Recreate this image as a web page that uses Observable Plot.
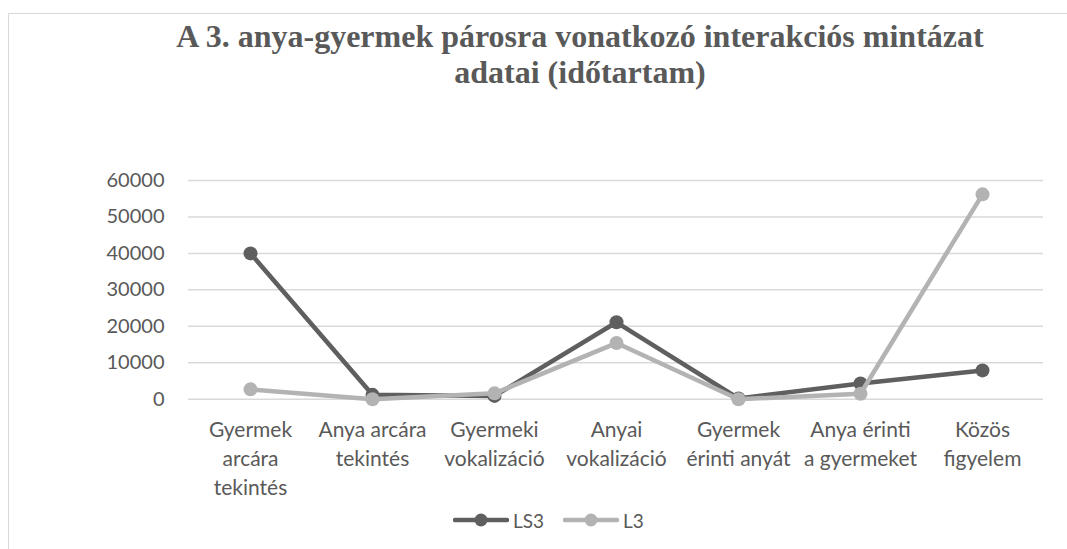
<!DOCTYPE html>
<html>
<head>
<meta charset="utf-8">
<script src="https://cdn.jsdelivr.net/npm/d3@7"></script>
<script src="https://cdn.jsdelivr.net/npm/@observablehq/plot@0.6"></script>
<style>
  html, body { margin: 0; padding: 0; background: #fff; }
  #wrap { position: relative; width: 1067px; height: 549px; overflow: hidden; background: #fff; }
  #frame { position: absolute; left: 8px; top: 13px; width: 1100px; height: 600px;
           border-top: 1.5px solid #d9d9d9; border-left: 1.5px solid #d9d9d9; }
  #title { position: absolute; left: 80px; width: 1000px; top: 18px; text-align: center;
           font-family: "Liberation Serif", "Times New Roman", serif; font-weight: bold;
           font-size: 32px; line-height: 36px; color: #595959; }
  #chart { position: absolute; left: 0; top: 100px; }
  #legend { position: absolute; left: 0; top: 507px; width: 1067px; height: 26px;
            font-family: Lato, sans-serif; font-size: 19px; color: #595959; }
  .item { position: absolute; top: 0; display: flex; align-items: center; height: 26px; }
  .item svg { margin-right: 4px; }
</style>
</head>
<body>
<div id="wrap">
  <div id="frame"></div>
  <div id="title">A 3. anya-gyermek párosra vonatkozó interakciós mintázat<br>adatai (időtartam)</div>
  <div id="chart"></div>
  <div id="legend"></div>
</div>
<script>
const categories = [
  "Gyermek arcára tekintés",
  "Anya arcára tekintés",
  "Gyermeki vokalizáció",
  "Anyai vokalizáció",
  "Gyermek érinti anyát",
  "Anya érinti a gyermeket",
  "Közös figyelem"
];
const categoryLabels = [
  "Gyermek\narcára\ntekintés",
  "Anya arcára\ntekintés",
  "Gyermeki\nvokalizáció",
  "Anyai\nvokalizáció",
  "Gyermek\nérinti anyát",
  "Anya érinti\na gyermeket",
  "Közös\nfigyelem"
];
const seriesNames = ["LS3", "L3"];
const valuesLS3 = [40000, 1200, 900, 21100, 200, 4300, 7900];
const valuesL3 = [2700, 0, 1600, 15400, 0, 1500, 56200];
const yTicks = [0, 10000, 20000, 30000, 40000, 50000, 60000];
const seriesColors = ["#5f5f5f", "#b3b3b3"];

const rowsLS3 = categories.map((c, i) => ({cat: c, value: valuesLS3[i]}));
const rowsL3 = categories.map((c, i) => ({cat: c, value: valuesL3[i]}));
const labelOf = new Map(categories.map((c, i) => [c, categoryLabels[i]]));

const font = "Lato, sans-serif";
const plot = Plot.plot({
  width: 1067,
  height: 405,
  marginLeft: 188,
  marginRight: 24,
  marginTop: 80,
  marginBottom: 106.3,
  style: {fontFamily: font, background: "transparent", overflow: "visible"},
  x: {type: "point", domain: categories, padding: 0.5},
  y: {domain: [0, 60000]},
  marks: [
    Plot.ruleY(yTicks, {stroke: "#d9d9d9", strokeWidth: 1.5}),
    Plot.axisY({ticks: yTicks, tickSize: 0, tickPadding: 24, fontSize: 20, fill: "#595959",
      tickFormat: d => String(d), label: null}),
    Plot.axisX({tickSize: 0, tickPadding: 18, fontSize: 21, fill: "#595959", lineHeight: 1.36,
      tickFormat: d => labelOf.get(d), label: null}),
    Plot.line(rowsLS3, {x: "cat", y: "value", stroke: seriesColors[0], strokeWidth: 4.5, strokeLinejoin: "round", strokeLinecap: "round"}),
    Plot.dot(rowsLS3, {x: "cat", y: "value", r: 7, fill: seriesColors[0]}),
    Plot.line(rowsL3, {x: "cat", y: "value", stroke: seriesColors[1], strokeWidth: 4.5, strokeLinejoin: "round", strokeLinecap: "round"}),
    Plot.dot(rowsL3, {x: "cat", y: "value", r: 7, fill: seriesColors[1]})
  ]
});
document.getElementById("chart").appendChild(plot);

// legend
const legend = document.getElementById("legend");
const legendX = [453, 563];
seriesNames.forEach((name, i) => {
  const item = document.createElement("div");
  item.className = "item";
  item.style.left = legendX[i] + "px";
  item.innerHTML = `<svg width="56" height="16"><line x1="2" x2="54" y1="8" y2="8" stroke="${seriesColors[i]}" stroke-width="4.5" stroke-linecap="round"/><circle cx="28" cy="8" r="6.5" fill="${seriesColors[i]}"/></svg><span>${name}</span>`;
  legend.appendChild(item);
});
</script>
</body>
</html>
